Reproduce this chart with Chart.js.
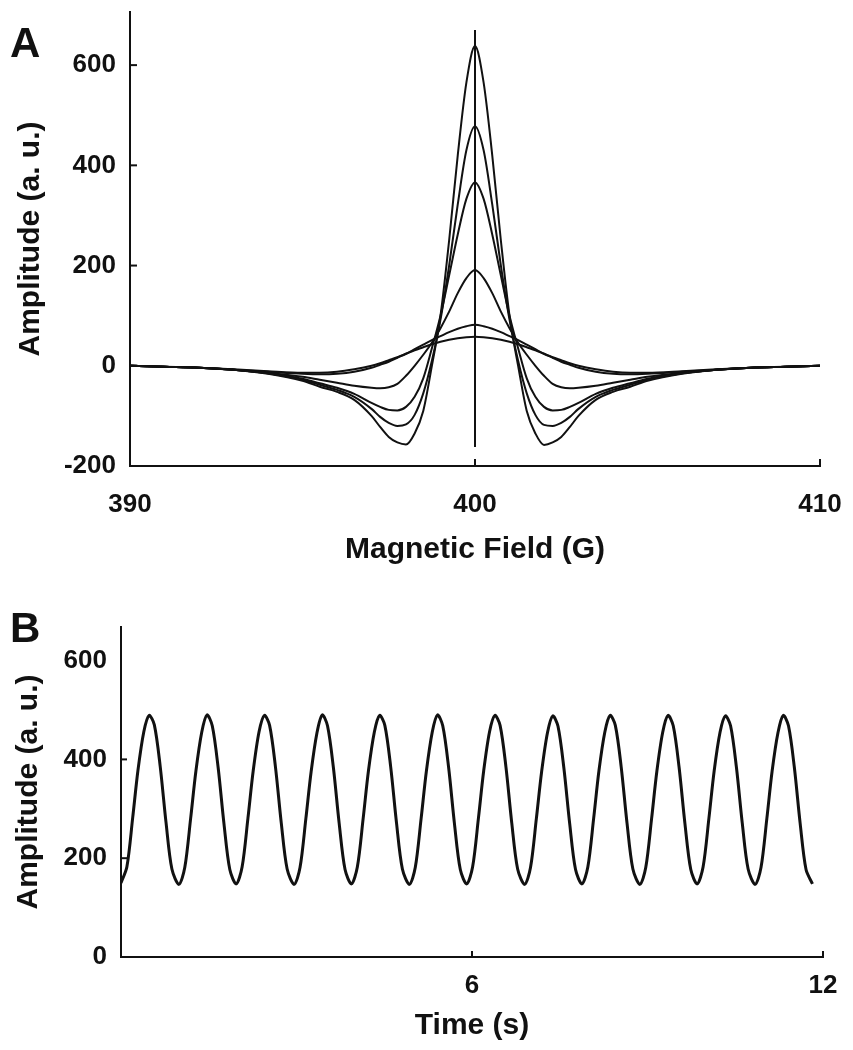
<!DOCTYPE html>
<html>
<head>
<meta charset="utf-8">
<script src="https://cdn.jsdelivr.net/npm/chart.js@4.4.1/dist/chart.umd.min.js"></script>
<style>
  body { margin: 0; background: #fff; }
  #pagina { position: relative; width: 853px; height: 1050px; }
  canvas { position: absolute; left: 0; }
  .painel { position: absolute; left: 10px; font: bold 42px "Liberation Sans", Arial, sans-serif; line-height: 1; color: #111; }
</style>
</head>
<body>
<div id="pagina">
  <canvas id="GraficoCampo" width="853" height="590" style="top:0"></canvas>
  <canvas id="GraficoTempo" width="853" height="460" style="top:590px"></canvas>
  <div class="painel" style="top:22px">A</div>
  <div class="painel" style="top:607px">B</div>
</div>
<script>
// Painel A: espectros em funcao do campo magnetico (G)
var campo = [390, 391, 392, 393, 394, 395, 395.5, 396, 396.5, 397, 397.25, 397.5, 397.75, 398, 398.25, 398.5, 398.75, 399, 399.25, 399.5, 399.75, 400,
    400.25, 400.5, 400.75, 401, 401.25, 401.5, 401.75, 402, 402.25, 402.5, 402.75, 403, 403.5, 404, 404.5, 405, 406, 407, 408, 409, 410];

var curva1 = [0, -2, -4, -8, -16, -30, -42, -52, -68, -100, -122, -142, -153, -157, -135, -90, 0, 100, 250, 420, 565, 638,
    565, 420, 250, 100, 0, -90, -135, -158, -153, -142, -122, -100, -68, -52, -42, -30, -16, -8, -4, -2, 0];
var curva2 = [0, -2, -4, -8, -15, -28, -38, -48, -62, -86, -102, -114, -120, -117, -98, -55, 10, 92, 200, 322, 430, 478,
    430, 322, 200, 92, 10, -55, -98, -118, -120, -114, -102, -86, -62, -48, -38, -28, -15, -8, -4, -2, 0];
var curva3 = [0, -2, -4, -8, -15, -26, -35, -44, -56, -74, -82, -88, -89, -82, -62, -25, 35, 100, 180, 262, 333, 366,
    333, 262, 180, 100, 35, -25, -62, -82, -89, -88, -82, -74, -56, -44, -35, -26, -15, -8, -4, -2, 0];
var curva4 = [0, -2, -4, -8, -14, -22, -28, -34, -40, -44, -45, -43, -36, -20, 0, 22, 46, 75, 108, 145, 175, 191,
    175, 145, 108, 75, 46, 22, 0, -20, -36, -43, -45, -44, -40, -34, -28, -22, -14, -8, -4, -2, 0];
var curva5 = [0, -2, -4, -8, -12, -16, -17, -16, -12, -4, 2, 8, 16, 24, 33, 42, 51, 59, 67, 74, 79, 82,
    79, 74, 67, 59, 51, 42, 33, 24, 16, 8, 2, -4, -12, -16, -17, -16, -12, -8, -4, -2, 0];
var curva6 = [0, -2, -4, -7, -11, -14, -14, -12, -7, 0, 5, 11, 17, 24, 31, 37, 43, 48, 52, 55, 57, 58,
    57, 55, 52, 48, 43, 37, 31, 24, 17, 11, 5, 0, -7, -12, -14, -14, -11, -7, -4, -2, 0];

// linha vertical no centro (400 G)
var linhaCentralX = [400, 400];
var linhaCentralY = [-162, 670];

var ticksCampo = [390, 400, 410];
var ticksAmplitudeA = [-200, 0, 200, 400, 600];

// Painel B: amplitude em funcao do tempo (s)
var tempo = [
    0, 0.10, 0.20, 0.29, 0.39, 0.48, 0.57, 0.67, 0.77, 0.87,
    0.99, 1.09, 1.19, 1.28, 1.38, 1.47, 1.56, 1.66, 1.76, 1.86,
    1.97, 2.07, 2.17, 2.26, 2.36, 2.45, 2.54, 2.64, 2.74, 2.84,
    2.96, 3.06, 3.16, 3.25, 3.35, 3.44, 3.53, 3.63, 3.73, 3.83,
    3.94, 4.04, 4.14, 4.23, 4.33, 4.42, 4.51, 4.61, 4.71, 4.81,
    4.93, 5.03, 5.13, 5.22, 5.32, 5.41, 5.50, 5.60, 5.70, 5.80,
    5.91, 6.01, 6.11, 6.20, 6.30, 6.39, 6.48, 6.58, 6.68, 6.78,
    6.90, 7.00, 7.10, 7.19, 7.29, 7.38, 7.47, 7.57, 7.67, 7.77,
    7.88, 7.98, 8.08, 8.17, 8.27, 8.36, 8.45, 8.55, 8.65, 8.75,
    8.87, 8.97, 9.07, 9.16, 9.26, 9.35, 9.44, 9.54, 9.64, 9.74,
    9.85, 9.95, 10.05, 10.14, 10.24, 10.33, 10.42, 10.52, 10.62, 10.72,
    10.84, 10.94, 11.04, 11.13, 11.23, 11.32, 11.41, 11.51, 11.61, 11.71,
    11.82];
var amplitudeB = [
    150, 182, 282, 378, 456, 489, 470, 386, 272, 178,
    147, 181, 280, 376, 455, 490, 468, 384, 270, 177,
    148, 182, 281, 377, 456, 489, 469, 385, 271, 178,
    147, 181, 280, 375, 454, 490, 468, 384, 270, 177,
    148, 182, 281, 377, 455, 489, 469, 385, 271, 178,
    147, 181, 280, 376, 455, 490, 468, 384, 270, 177,
    148, 182, 281, 377, 456, 489, 469, 385, 271, 178,
    147, 181, 280, 375, 454, 488, 467, 383, 270, 177,
    148, 182, 281, 377, 455, 489, 469, 385, 271, 178,
    147, 181, 280, 376, 455, 489, 468, 384, 270, 177,
    148, 182, 281, 377, 455, 488, 468, 384, 271, 178,
    147, 181, 280, 376, 454, 489, 468, 384, 270, 177,
    148];

var ticksTempo = [6, 12];
var ticksAmplitudeB = [0, 200, 400, 600];

var corLinha = '#111';
Chart.defaults.font.family = '"Liberation Sans", Arial, sans-serif';
Chart.defaults.font.weight = 'bold';
Chart.defaults.color = '#111';

function Pontos(xs, ys) {
    return xs.map(function (x, i) { return { x: x, y: ys[i] }; });
}

function FixarTicks(valores) {
    return function (scale) {
        scale.ticks = valores.map(function (v) { return { value: v }; });
    };
}

function FixarLargura(w) {
    return function (scale) {
        scale.width = w;
        scale.paddingTop = 0;
        scale.paddingBottom = 0;
    };
}

function FixarAltura(h) {
    return function (scale) {
        scale.height = h;
        scale.paddingLeft = 0;
        scale.paddingRight = 0;
    };
}

// marcas dos ticks voltadas para dentro do grafico
var marcasInternas = {
    id: 'marcasInternas',
    afterDraw: function (chart, args, opts) {
        var ctx = chart.ctx;
        var sx = chart.scales.x, sy = chart.scales.y;
        ctx.save();
        ctx.strokeStyle = corLinha;
        ctx.lineWidth = 2;
        (opts.x || []).forEach(function (v) {
            var px = sx.getPixelForValue(v);
            ctx.beginPath();
            ctx.moveTo(px, sy.bottom);
            ctx.lineTo(px, sy.bottom - opts.tamanho);
            ctx.stroke();
        });
        (opts.y || []).forEach(function (v) {
            var py = sy.getPixelForValue(v);
            ctx.beginPath();
            ctx.moveTo(sx.left, py);
            ctx.lineTo(sx.left + opts.tamanho, py);
            ctx.stroke();
        });
        ctx.restore();
    }
};

function Curva(ys) {
    return {
        data: Pontos(campo, ys),
        borderColor: corLinha,
        borderWidth: 2,
        pointRadius: 0,
        cubicInterpolationMode: 'monotone',
        fill: false
    };
}

var ctxA = document.getElementById('GraficoCampo').getContext('2d');
var graficoA = new Chart(ctxA, {
    type: 'line',
    data: {
        datasets: [
            Curva(curva1), Curva(curva2), Curva(curva3),
            Curva(curva4), Curva(curva5), Curva(curva6),
            {
                data: Pontos(linhaCentralX, linhaCentralY),
                borderColor: corLinha,
                borderWidth: 2,
                pointRadius: 0
            }
        ]
    },
    options: {
        responsive: false,
        animation: false,
        devicePixelRatio: 1,
        layout: { padding: { top: 12, right: 33, bottom: 0, left: 0 } },
        plugins: {
            legend: { display: false },
            tooltip: { enabled: false },
            marcasInternas: { x: [400, 410], y: [0, 200, 400, 600], tamanho: 7 }
        },
        scales: {
            x: {
                type: 'linear',
                min: 390,
                max: 410,
                afterBuildTicks: FixarTicks(ticksCampo),
                afterFit: FixarAltura(124),
                grid: { display: false, drawTicks: false },
                border: { display: true, color: corLinha, width: 2 },
                ticks: { padding: 23, font: { size: 26, weight: 'bold' }, maxRotation: 0 },
                title: { display: true, text: 'Magnetic Field (G)', font: { size: 30, weight: 'bold' }, padding: { top: 22, bottom: 22 } }
            },
            y: {
                type: 'linear',
                min: -200,
                max: 706,
                afterBuildTicks: FixarTicks(ticksAmplitudeA),
                afterFit: FixarLargura(130),
                grid: { display: false, drawTicks: false },
                border: { display: true, color: corLinha, width: 2 },
                ticks: { padding: 14, font: { size: 26, weight: 'bold' } },
                title: { display: true, text: 'Amplitude (a. u.)', font: { size: 30, weight: 'bold' }, padding: { top: 13, bottom: 13 } }
            }
        }
    },
    plugins: [marcasInternas]
});

var ctxB = document.getElementById('GraficoTempo').getContext('2d');
var graficoB = new Chart(ctxB, {
    type: 'line',
    data: {
        datasets: [{
            data: Pontos(tempo, amplitudeB),
            borderColor: corLinha,
            borderWidth: 3,
            pointRadius: 0,
            tension: 0.3,
            fill: false
        }]
    },
    options: {
        responsive: false,
        animation: false,
        devicePixelRatio: 1,
        layout: { padding: { top: 37, right: 30, bottom: 0, left: 0 } },
        plugins: {
            legend: { display: false },
            tooltip: { enabled: false },
            marcasInternas: { x: [6, 12], y: [200, 400], tamanho: 6 }
        },
        scales: {
            x: {
                type: 'linear',
                min: 0,
                max: 12,
                afterBuildTicks: FixarTicks(ticksTempo),
                afterFit: FixarAltura(93),
                grid: { display: false, drawTicks: false },
                border: { display: true, color: corLinha, width: 2 },
                ticks: { padding: 13, font: { size: 26, weight: 'bold' }, maxRotation: 0 },
                title: { display: true, text: 'Time (s)', font: { size: 30, weight: 'bold' }, padding: { top: 6, bottom: 6 } }
            },
            y: {
                type: 'linear',
                min: 0,
                max: 668,
                afterBuildTicks: FixarTicks(ticksAmplitudeB),
                afterFit: FixarLargura(121),
                grid: { display: false, drawTicks: false },
                border: { display: true, color: corLinha, width: 2 },
                ticks: { padding: 14, font: { size: 26, weight: 'bold' } },
                title: { display: true, text: 'Amplitude (a. u.)', font: { size: 30, weight: 'bold' }, padding: { top: 11, bottom: 11 } }
            }
        }
    },
    plugins: [marcasInternas]
});
</script>
</body>
</html>
